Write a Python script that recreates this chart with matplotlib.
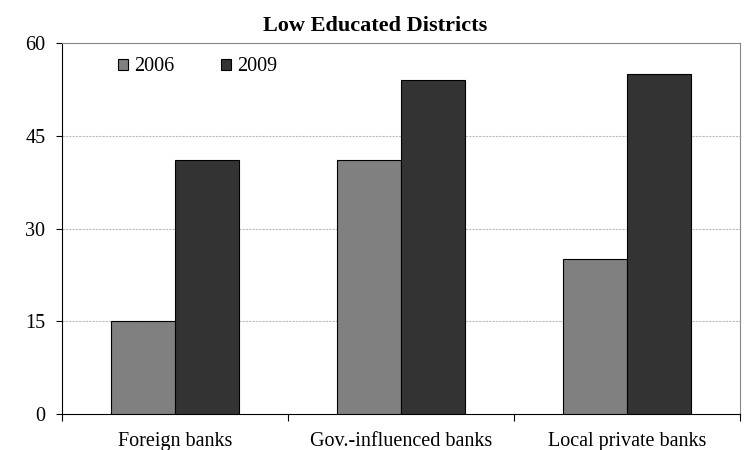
import numpy as np
import matplotlib
matplotlib.use("Agg")
import matplotlib.pyplot as plt
from matplotlib.patches import Patch

categories = ["Foreign banks", "Gov.-influenced banks", "Local private banks"]
years = ["2006", "2009"]
vals_2006 = [15, 41, 25]
vals_2009 = [41, 54, 55]
colors = ["#808080", "#333333"]

plt.rcParams['font.family'] = ['Liberation Serif', 'DejaVu Serif']

fig = plt.figure(figsize=(7.5, 4.5), dpi=100)
ax = fig.add_axes([62/750, 1 - 414/450, (740-62)/750, (414-43)/450])

x = np.arange(len(categories))
w = 0.283
ax.bar(x - w/2, vals_2006, w, color=colors[0], edgecolor="black", linewidth=0.8, zorder=3)
ax.bar(x + w/2, vals_2009, w, color=colors[1], edgecolor="black", linewidth=0.8, zorder=3)

ax.set_xlim(-0.5, 2.5)
ax.set_ylim(0, 60)
ax.set_yticks([0, 15, 30, 45, 60])
ax.tick_params(axis='y', labelsize=14.5, length=4, width=0.8, direction='out', pad=8)
ax.set_xticks(x)
ax.set_xticklabels(categories, fontsize=14.5)
ax.tick_params(axis='x', which='major', length=0, pad=13)
ax.set_xticks([-0.5, 0.5, 1.5, 2.5], minor=True)
ax.tick_params(axis='x', which='minor', length=5, width=0.8, direction='out')

for yv in [15, 30, 45]:
    ax.axhline(yv, color="#bbbbbb", linestyle=(0, (2, 1)), linewidth=0.8, zorder=1)

ax.spines['left'].set_color('black')
ax.spines['bottom'].set_color('black')
ax.spines['top'].set_color('#888888')
ax.spines['right'].set_color('#888888')

fig.text(0.5, 1 - 31/450, "Low Educated Districts", fontsize=16, fontweight='bold',
         ha='center', va='baseline')

handles = [Patch(facecolor=c, edgecolor='black', linewidth=0.8) for c in colors]
ax.legend(handles, years, loc='upper left', bbox_to_anchor=(0.056, 1.01), ncol=2,
          frameon=False, fontsize=14.5, handlelength=0.5, handleheight=0.5,
          handletextpad=0.3, columnspacing=2.3)

fig.savefig("out.png", dpi=100)
